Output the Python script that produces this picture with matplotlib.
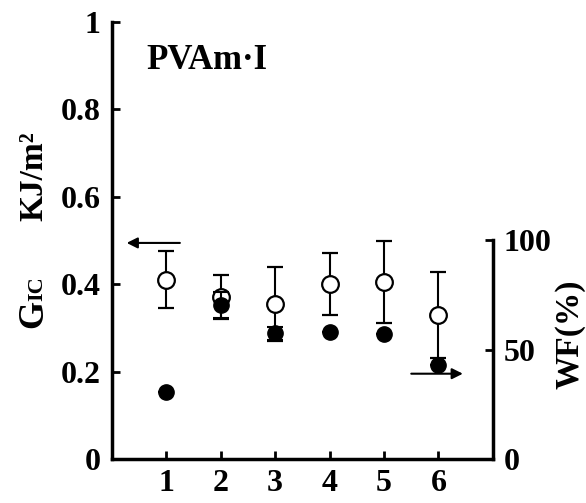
import matplotlib
matplotlib.use("Agg")
import matplotlib.pyplot as plt

# Data
samples = [1, 2, 3, 4, 5, 6]
gic = [0.41, 0.37, 0.355, 0.40, 0.405, 0.33]
gic_err = [0.065, 0.05, 0.085, 0.07, 0.093, 0.098]
wf = [30.5, 70.5, 57.5, 58.0, 57.0, 43.0]
wf_err = [0, 6, 3, 0, 0, 0]
left_ticks = [0, 0.2, 0.4, 0.6, 0.8, 1]
left_ticklabels = ["0", "0.2", "0.4", "0.6", "0.8", "1"]
right_ticks = [0, 50, 100]

plt.rcParams['font.family'] = ['Liberation Serif', 'DejaVu Serif']
plt.rcParams['font.weight'] = 'bold'

fig = plt.figure(figsize=(5.86, 5.03), dpi=100)
ax = fig.add_axes([0.191, 0.0875, 0.650, 0.8695])
ax2 = ax.twinx()

lw = 2.5
ax.set_xlim(0, 7)
ax.set_ylim(0, 1)
ax2.set_ylim(0, 200)

ax.errorbar(samples, gic, yerr=gic_err, fmt='o', mfc='white', mec='black',
            ms=12, mew=1.6, ecolor='black', elinewidth=1.5, capsize=6, capthick=1.5, zorder=3)
ax2.errorbar(samples, wf, yerr=wf_err, fmt='o', mfc='black', mec='black',
             ms=11, ecolor='black', elinewidth=1.5, capsize=6, capthick=1.5, zorder=4)

for a in (ax, ax2):
    a.spines['top'].set_visible(False)
    for s in a.spines.values():
        s.set_linewidth(lw)
ax.spines['right'].set_visible(False)
ax2.spines['left'].set_visible(False)
ax2.spines['bottom'].set_visible(False)
ax2.spines['right'].set_bounds(0, 100)

fs = 23
ax.set_yticks(left_ticks)
ax.set_yticklabels(left_ticklabels)
ax.set_xticks(samples)
ax.tick_params(direction='in', length=6, width=2, labelsize=fs, pad=8)
ax.tick_params(axis='x', pad=7)
ax2.set_yticks(right_ticks)
ax2.tick_params(direction='in', length=6, width=2, labelsize=fs, pad=8)
for lab in ax.get_xticklabels() + ax.get_yticklabels() + ax2.get_yticklabels():
    lab.set_fontweight('bold')

# Labels
fig.text(0.072, 0.348, "G", rotation=90, rotation_mode='anchor', ha='left', va='baseline',
         fontsize=26, fontweight='bold')
fig.text(0.072, 0.402, "IC", rotation=90, rotation_mode='anchor', ha='left', va='baseline',
         fontsize=16, fontweight='bold')
fig.text(0.072, 0.65, "KJ/m²", rotation=90, rotation_mode='anchor', ha='center', va='baseline',
         fontsize=24, fontweight='bold')
fig.text(0.972, 0.336, "WF(%)", rotation=90, ha='center', va='center', fontsize=24,
         fontweight='bold')
ax.text(0.64, 0.91, "PVAm·I", fontsize=25, fontweight='bold', ha='left', va='center')

# Arrows
ax.annotate("", xy=(0.22, 0.494), xytext=(1.3, 0.494),
            arrowprops=dict(arrowstyle='-|>', color='black', lw=1.5, mutation_scale=16))
ax2.annotate("", xy=(6.5, 39), xytext=(5.45, 39),
             arrowprops=dict(arrowstyle='-|>', color='black', lw=1.5, mutation_scale=16))

fig.savefig("out.png", dpi=100)
